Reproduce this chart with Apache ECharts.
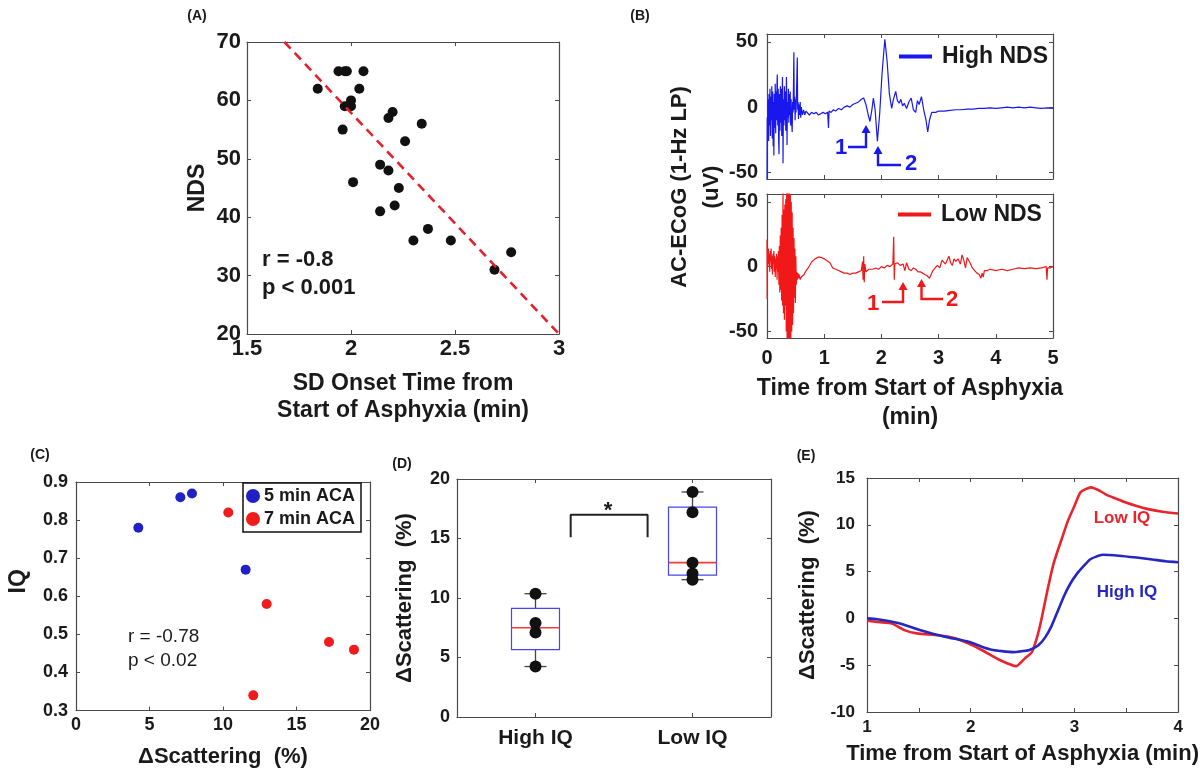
<!DOCTYPE html>
<html><head><meta charset="utf-8">
<script src="https://cdn.jsdelivr.net/npm/echarts@6/dist/echarts.min.js"></script>
<style>html,body{margin:0;padding:0;background:#fff}#c{width:1201px;height:771px}</style>
</head><body><div id="c"></div>
<script>
// ================= DATA =================
// (A) SD onset time vs NDS
const ndsOnset = [1.84,1.94,1.97,1.98,2.06,2.04,2.00,1.97,2.00,1.96,2.01,2.18,2.20,2.34,2.26,2.14,2.18,2.23,2.21,2.14,2.37,2.30,2.48,2.69,2.77];
const ndsScore = [62,65,65,65,65,62,60,59,59,55,46,57,58,56,53,49,48,45,42,41,38,36,36,31,34];
const ndsFitX = [1.68, 3.0];
const ndsFitY = [70, 20];
const ndsXTicks = [1.5, 3, 0.5];   // min, max, step
const ndsYTicks = [20, 70, 10];

// (B) AC-ECoG traces [time (min), uV]
const highNDS = [[0,-56],[0.004,-8],[0.012,-20],[0.02,6],[0.028,-26],[0.036,10],[0.044,-14],[0.052,14],[0.06,-22],[0.068,8],[0.076,-10],[0.084,16],[0.092,-24],[0.10,12],[0.108,-30],[0.116,4],[0.12,-37],[0.128,10],[0.136,-16],[0.144,18],[0.152,-20],[0.16,12],[0.168,-10],[0.176,20],[0.18,25],[0.188,-14],[0.196,14],[0.204,-26],[0.21,-36],[0.218,10],[0.226,-18],[0.234,16],[0.242,-12],[0.25,14],[0.258,-22],[0.266,8],[0.27,23],[0.278,-20],[0.28,-43],[0.288,6],[0.296,-14],[0.304,16],[0.312,-10],[0.32,12],[0.328,-18],[0.336,8],[0.34,23],[0.348,-12],[0.35,-29],[0.358,4],[0.366,-8],[0.374,14],[0.382,-12],[0.39,10],[0.398,-6],[0.406,12],[0.414,-14],[0.422,6],[0.43,-10],[0.44,-19],[0.448,4],[0.456,-4],[0.464,20],[0.47,42],[0.476,-2],[0.484,8],[0.492,-10],[0.50,6],[0.508,-4],[0.516,12],[0.53,38],[0.536,-2],[0.544,4],[0.55,-9],[0.56,2],[0.57,-6],[0.58,4],[0.59,-8],[0.60,0],[0.62,-6],[0.64,-2],[0.66,-6],[0.68,-3],[0.70,-4],[0.74,-6],[0.78,-4],[0.82,-5],[0.86,-4],[0.90,-6],[0.94,-5],[0.98,-4],[1.02,-5],[1.06,-4],[1.075,-16],[1.085,-3],[1.12,-4],[1.16,-2],[1.20,-3],[1.25,-1],[1.30,-2],[1.35,0],[1.40,1],[1.45,0],[1.50,2],[1.55,3],[1.60,4],[1.65,6],[1.69,7],[1.73,2],[1.77,-6],[1.80,-11],[1.83,-3],[1.86,7],[1.89,-2],[1.93,-26],[1.97,-5],[2.01,25],[2.06,52],[2.10,35],[2.14,10],[2.18,-1],[2.21,6],[2.25,12],[2.28,5],[2.31,3],[2.34,6],[2.37,1],[2.40,3],[2.44,-1],[2.48,4],[2.52,7],[2.56,-2],[2.60,-4],[2.63,5],[2.66,2],[2.70,8],[2.74,-2],[2.78,-10],[2.81,-19],[2.84,-10],[2.88,-4],[2.95,-4],[3.0,-3],[3.1,-3],[3.2,-2.5],[3.3,-2],[3.4,-2],[3.5,-1.5],[3.6,-1.5],[3.7,-1],[3.8,-1],[3.9,-0.5],[4.0,-1],[4.1,-0.5],[4.2,0],[4.3,-0.5],[4.4,0],[4.5,-0.5],[4.6,0],[4.7,-0.5],[4.8,-1],[4.9,-0.5],[5.0,-1]];
const lowNDS = [[0,21],[0.003,-25],[0.008,12],[0.016,0],[0.024,14],[0.032,2],[0.04,10],[0.048,-4],[0.056,12],[0.064,4],[0.072,14],[0.08,-2],[0.088,8],[0.096,-6],[0.104,10],[0.112,2],[0.12,12],[0.128,-4],[0.136,8],[0.144,-8],[0.152,6],[0.16,-2],[0.168,10],[0.176,-10],[0.184,8],[0.192,-4],[0.20,12],[0.208,-14],[0.216,16],[0.224,-20],[0.232,24],[0.24,-18],[0.248,30],[0.256,-26],[0.264,40],[0.272,-30],[0.28,58],[0.288,-36],[0.296,44],[0.304,-41],[0.312,48],[0.32,-30],[0.328,52],[0.336,-50],[0.344,60],[0.352,-60],[0.36,60],[0.368,-60],[0.376,60],[0.384,-60],[0.392,58],[0.40,-60],[0.408,56],[0.416,-58],[0.424,50],[0.432,-50],[0.44,42],[0.448,-45],[0.456,30],[0.464,-36],[0.472,22],[0.48,-24],[0.488,14],[0.496,-28],[0.504,8],[0.512,-14],[0.52,-4],[0.53,-10],[0.54,-5],[0.55,-9],[0.56,-6],[0.58,-10],[0.60,-8],[0.62,-9],[0.65,-6],[0.67,-4],[0.72,-1],[0.78,3.6],[0.84,6],[0.90,7.5],[0.95,7],[1.0,6],[1.05,4.5],[1.1,3],[1.15,-1],[1.2,-2],[1.25,-3],[1.3,-4],[1.35,-5],[1.4,-5],[1.45,-6],[1.5,-5],[1.55,-5],[1.6,-4],[1.65,-3],[1.67,4],[1.68,-10],[1.69,8],[1.70,-12],[1.71,2],[1.73,-4],[1.78,-2],[1.85,-2],[1.9,-1],[1.95,-2],[2.0,0],[2.05,-1],[2.1,1],[2.15,0],[2.2,2],[2.215,23],[2.225,-10],[2.235,2],[2.28,3],[2.33,1],[2.38,2],[2.41,-3],[2.44,3],[2.48,-2],[2.52,-3],[2.56,-1],[2.60,-2],[2.64,-4],[2.68,-4],[2.72,-5],[2.76,-6],[2.80,-7],[2.84,-9],[2.87,-6],[2.90,-3],[2.94,-1],[2.98,1],[3.02,-1],[3.06,5],[3.09,6],[3.12,2],[3.15,3],[3.18,8],[3.21,3],[3.24,1],[3.27,6],[3.30,4],[3.34,6],[3.38,2],[3.41,9],[3.44,5],[3.47,-1],[3.50,7],[3.53,8],[3.56,2],[3.59,-1],[3.63,-3],[3.67,-5],[3.71,-6],[3.74,-9],[3.76,-5],[3.78,-8],[3.80,-3],[3.85,-3],[3.90,-2],[4.0,-3],[4.1,-2],[4.2,-3],[4.3,-2],[4.4,-1],[4.5,-1.5],[4.6,-1],[4.7,-1.5],[4.8,-1],[4.88,0],[4.895,-10],[4.905,-1],[4.95,-1],[5.0,0]];
const ecogYTicks = [-50, 0, 50];

// (C) IQ vs ΔScattering
const aca5Scatter = [4.24, 7.1, 7.89, 11.54];
const aca5IQ      = [0.78, 0.86, 0.87, 0.67];
const aca7Scatter = [10.36, 12.97, 17.21, 18.91, 12.06];
const aca7IQ      = [0.82, 0.58, 0.48, 0.46, 0.34];

// (D) box plot
const iqGroups = ['High IQ', 'Low IQ'];
const highIQScatter = [4.24, 7.1, 7.89, 10.36];
const lowIQScatter  = [11.54, 12.06, 12.97, 17.21, 18.91];
const sigBracket = [[0.724,15.1],[0.724,17],[1.214,17],[1.214,15.1]];

// (E) ΔScattering time course [min, %]
const eLowIQ = [[1,-0.25],[1.12,-0.4],[1.24,-0.55],[1.36,-1.25],[1.48,-1.6],[1.69,-1.8],[1.84,-2.1],[1.98,-2.7],[2.11,-3.4],[2.29,-4.5],[2.44,-5.1],[2.52,-4.3],[2.59,-3.6],[2.64,-2.0],[2.68,-0.2],[2.74,3.0],[2.80,5.9],[2.89,8.9],[2.94,10.5],[3.0,12.0],[3.06,13.5],[3.16,14.0],[3.25,13.6],[3.31,13.2],[3.4,12.8],[3.49,12.4],[3.6,12.0],[3.7,11.7],[3.85,11.4],[4,11.2]];
const eHighIQ = [[1,0],[1.1,-0.1],[1.3,-0.5],[1.5,-1.2],[1.75,-1.95],[1.98,-2.5],[2.1,-3.0],[2.2,-3.35],[2.3,-3.5],[2.41,-3.6],[2.5,-3.5],[2.56,-3.4],[2.65,-2.9],[2.72,-2.0],[2.78,-0.8],[2.84,0.8],[2.9,2.4],[2.96,3.7],[3.02,4.7],[3.09,5.6],[3.15,6.3],[3.21,6.6],[3.27,6.8],[3.43,6.7],[3.6,6.5],[3.75,6.3],[3.88,6.1],[4,6.0]];

// ================= BUILD =================
const FONT = '"Liberation Sans", Arial, sans-serif';
const AX = '#4a4a4a';
const TXT = '#1a1a1a';
const grids = [], xAxes = [], yAxes = [];

function panel(rect, xa, ya) {
  const gi = grids.length;
  grids.push({left: rect[0], top: rect[1], width: rect[2], height: rect[3]});
  const mk = (cfg, pos, primary) => {
    const lab = cfg.label || {};
    const ax = {
      type: 'value', gridIndex: gi, position: pos, min: cfg.min, max: cfg.max,
      splitLine: {show: false},
      axisLine: {show: true, onZero: false, lineStyle: {color: AX, width: 1.2}},
      axisTick: {show: true, inside: true, length: 4, lineStyle: {color: AX, width: 1}},
      axisLabel: {show: primary && lab.show !== false, margin: lab.margin, fontSize: lab.size,
                  fontWeight: 'bold', color: TXT, fontFamily: FONT}
    };
    if (cfg.interval != null) ax.interval = cfg.interval;
    if (cfg.ticks) { ax.axisTick.customValues = cfg.ticks; ax.axisLabel.customValues = cfg.ticks; }
    if (lab.formatter) ax.axisLabel.formatter = lab.formatter;
    if (primary && cfg.name) {
      ax.name = cfg.name; ax.nameLocation = 'middle'; ax.nameGap = cfg.nameGap;
      ax.nameTextStyle = {fontSize: cfg.nameSize, fontWeight: 'bold', color: TXT, fontFamily: FONT,
                          lineHeight: cfg.nameLH || cfg.nameSize * 1.2, padding: cfg.namePad || 0};
    }
    return ax;
  };
  xAxes.push(mk(xa, 'bottom', true), mk(xa, 'top', false));
  yAxes.push(mk(ya, 'left', true), mk(ya, 'right', false));
  return gi * 2;
}

const pA = panel([247, 42, 312, 292],
  {min: ndsXTicks[0], max: ndsXTicks[1], interval: ndsXTicks[2], label: {size: 22, margin: 4},
   name: 'SD Onset Time from\nStart of Asphyxia (min)', nameGap: 36, nameSize: 23, nameLH: 27},
  {min: ndsYTicks[0], max: ndsYTicks[1], interval: ndsYTicks[2], label: {size: 22, margin: 6},
   name: 'NDS', nameGap: 36, nameSize: 23});
const pB1 = panel([767, 34, 286, 145],
  {min: 0, max: 5, interval: 1, label: {show: false}},
  {min: -55, max: 56, ticks: ecogYTicks, label: {size: 20, margin: 9}});
const pB2 = panel([767, 194, 286, 144],
  {min: 0, max: 5, interval: 1, label: {size: 20, margin: 10},
   name: 'Time from Start of Asphyxia\n(min)', nameGap: 36, nameSize: 23, nameLH: 29},
  {min: -55, max: 56, ticks: ecogYTicks, label: {size: 20, margin: 9}});
const pC = panel([76, 482, 294, 235],
  {min: 0, max: 20, interval: 5, label: {size: 18, margin: 5},
   name: 'ΔScattering  (%)', nameGap: 33, nameSize: 22},
  {min: 0.3, max: 0.9, interval: 0.1, label: {size: 18, margin: 8},
   name: 'IQ', nameGap: 44, nameSize: 23, namePad: [0, 0, 0, 30]});
const pD = panel([457, 479, 314, 238],
  {min: 0, max: 2, ticks: [0.5, 1.5], label: {size: 21, margin: 11, formatter: v => iqGroups[Math.round(v - 0.5)]}},
  {min: 0, max: 20, interval: 5, label: {size: 18, margin: 7},
   name: 'ΔScattering  (%)', nameGap: 39, nameSize: 22});
const pE = panel([867, 478, 333, 234],
  {min: 1, max: 4, interval: 0.5, label: {size: 17, margin: 7, formatter: v => Number.isInteger(v) ? String(v) : ''},
   name: 'Time from Start of Asphyxia (min)', nameGap: 29, nameSize: 22},
  {min: -10, max: 15, interval: 5, label: {size: 17, margin: 12},
   name: 'ΔScattering  (%)', nameGap: 46, nameSize: 22});

// box stats (MATLAB prctile convention)
function prctile(arr, p) {
  const s = arr.slice().sort((a, b) => a - b), n = s.length;
  const pos = p / 100 * n + 0.5;
  if (pos <= 1) return s[0];
  if (pos >= n) return s[n - 1];
  const i = Math.floor(pos);
  return s[i - 1] + (pos - i) * (s[i] - s[i - 1]);
}
const boxData = [highIQScatter, lowIQScatter].map((arr, k) =>
  [k + 0.5, Math.min(...arr), prctile(arr, 25), prctile(arr, 50), prctile(arr, 75), Math.max(...arr)]);

const series = [
  // A
  {type: 'scatter', xAxisIndex: pA, yAxisIndex: pA, data: ndsOnset.map((x, i) => [x, ndsScore[i]]),
   symbolSize: 10, itemStyle: {color: '#111', opacity: 1}, z: 2},
  {type: 'line', xAxisIndex: pA, yAxisIndex: pA, data: ndsFitX.map((x, i) => [x, ndsFitY[i]]),
   symbol: 'none', lineStyle: {color: '#e3222b', width: 2.6, type: [9, 6]}, z: 3},
  // B
  {type: 'line', name: 'High NDS', xAxisIndex: pB1, yAxisIndex: pB1, data: highNDS, symbol: 'none',
   lineStyle: {color: '#1818ee', width: 1.2}, itemStyle: {color: '#1818ee'}},
  {type: 'line', name: 'Low NDS', xAxisIndex: pB2, yAxisIndex: pB2, data: lowNDS, symbol: 'none',
   lineStyle: {color: '#f01818', width: 1.2}, itemStyle: {color: '#f01818'}},
  // C
  {type: 'scatter', name: '5 min ACA', xAxisIndex: pC, yAxisIndex: pC, data: aca5Scatter.map((x, i) => [x, aca5IQ[i]]),
   symbolSize: 10, itemStyle: {color: '#2020c4', opacity: 1}},
  {type: 'scatter', name: '7 min ACA', xAxisIndex: pC, yAxisIndex: pC, data: aca7Scatter.map((x, i) => [x, aca7IQ[i]]),
   symbolSize: 10, itemStyle: {color: '#f01c1c', opacity: 1}},
  // D
  {type: 'custom', xAxisIndex: pD, yAxisIndex: pD, data: boxData, encode: {x: 0, y: [1, 2, 3, 4, 5]},
   renderItem: function (params, api) {
     const x = api.value(0);
     const pMin = api.coord([x, api.value(1)]), pQ1 = api.coord([x, api.value(2)]),
           pMed = api.coord([x, api.value(3)]), pQ3 = api.coord([x, api.value(4)]),
           pMax = api.coord([x, api.value(5)]);
     const cx = pMin[0], bw = 24, cw = 11;
     const wk = {stroke: '#444', lineWidth: 1.3};
     return {type: 'group', children: [
       {type: 'line', shape: {x1: cx, y1: pMin[1], x2: cx, y2: pQ1[1]}, style: wk},
       {type: 'line', shape: {x1: cx, y1: pQ3[1], x2: cx, y2: pMax[1]}, style: wk},
       {type: 'line', shape: {x1: cx - cw, y1: pMin[1], x2: cx + cw, y2: pMin[1]}, style: wk},
       {type: 'line', shape: {x1: cx - cw, y1: pMax[1], x2: cx + cw, y2: pMax[1]}, style: wk},
       {type: 'rect', shape: {x: cx - bw, y: pQ3[1], width: 2 * bw, height: pQ1[1] - pQ3[1]},
        style: {fill: null, stroke: '#4646f0', lineWidth: 1.2}},
       {type: 'line', shape: {x1: cx - bw, y1: pMed[1], x2: cx + bw, y2: pMed[1]},
        style: {stroke: '#f03c3c', lineWidth: 1.6}}
     ]};
   }, z: 2},
  {type: 'scatter', xAxisIndex: pD, yAxisIndex: pD, symbolSize: 12, itemStyle: {color: '#111', opacity: 1}, z: 4,
   data: highIQScatter.map(v => [0.5, v]).concat(lowIQScatter.map(v => [1.5, v]))},
  {type: 'line', xAxisIndex: pD, yAxisIndex: pD, data: sigBracket, symbol: 'none',
   lineStyle: {color: '#222', width: 2}},
  // E
  {type: 'line', name: 'Low IQ', xAxisIndex: pE, yAxisIndex: pE, data: eLowIQ, symbol: 'none', smooth: 0.2,
   lineStyle: {color: '#e8242c', width: 2.6}},
  {type: 'line', name: 'High IQ', xAxisIndex: pE, yAxisIndex: pE, data: eHighIQ, symbol: 'none', smooth: 0.2,
   lineStyle: {color: '#2626c0', width: 2.6}}
];

const txt = (x, y, text, font, fill, align, extra) => Object.assign({type: 'text', x: x, y: y, z: 100,
  style: {text: text, font: font, fill: fill || TXT, textAlign: align || 'center', textVerticalAlign: 'middle'}}, extra || {});
const poly = (pts, color) => ({type: 'polyline', z: 100, shape: {points: pts}, style: {stroke: color, lineWidth: 2.4, fill: null}});
const head = (x, y, color) => ({type: 'polygon', z: 100, shape: {points: [[x - 4.5, y + 7], [x + 4.5, y + 7], [x, y - 1]]}, style: {fill: color}});
const BLUE = '#1818ee', RED = '#f01818';

const graphic = [
  txt(197, 16, '(A)', 'bold 14px ' + FONT),
  txt(640, 16, '(B)', 'bold 14px ' + FONT),
  txt(40, 455, '(C)', 'bold 14px ' + FONT),
  txt(402, 464, '(D)', 'bold 14px ' + FONT),
  txt(806, 456, '(E)', 'bold 14px ' + FONT),
  txt(262, 260, 'r = -0.8', 'bold 22px ' + FONT, TXT, 'left'),
  txt(262, 288, 'p < 0.001', 'bold 22px ' + FONT, TXT, 'left'),
  txt(128, 637, 'r = -0.78', '19px ' + FONT, TXT, 'left'),
  txt(128, 661, 'p < 0.02', '19px ' + FONT, TXT, 'left'),
  txt(680, 187, 'AC-ECoG (1-Hz LP)', 'bold 22px ' + FONT, TXT, 'center', {rotation: Math.PI / 2}),
  txt(712, 187, '(uV)', 'bold 22px ' + FONT, TXT, 'center', {rotation: Math.PI / 2}),
  // B top annotations
  txt(841, 148, '1', 'bold 22px ' + FONT, BLUE),
  poly([[848, 147], [866, 147], [866, 130]], BLUE), head(866, 126, BLUE),
  poly([[878, 151], [878, 165], [901, 165]], BLUE), head(878, 147, BLUE),
  txt(911, 164, '2', 'bold 22px ' + FONT, BLUE),
  // B bottom annotations
  txt(873, 304, '1', 'bold 22px ' + FONT, RED),
  poly([[882, 302], [903, 302], [903, 287]], RED), head(903, 283, RED),
  poly([[921.5, 284], [921.5, 299], [943, 299]], RED), head(921.5, 280, RED),
  txt(952, 300, '2', 'bold 22px ' + FONT, RED),
  // D star
  txt(608, 511, '*', 'bold 22px ' + FONT),
  // E labels
  txt(1122, 518, 'Low IQ', 'bold 17px ' + FONT, '#e8242c'),
  txt(1127, 592, 'High IQ', 'bold 17px ' + FONT, '#2626c0')
];

const legTxt = (size) => ({fontSize: size, fontWeight: 'bold', color: TXT, fontFamily: FONT, padding: [0, 0, 0, 5]});
const option = {
  backgroundColor: '#fff',
  animation: false,
  grid: grids, xAxis: xAxes, yAxis: yAxes,
  legend: [
    {data: ['High NDS'], left: 894, top: 40, icon: 'rect', itemWidth: 33, itemHeight: 4, selectedMode: false, textStyle: legTxt(23)},
    {data: ['Low NDS'], left: 893, top: 198, icon: 'rect', itemWidth: 33, itemHeight: 4, selectedMode: false, textStyle: legTxt(23)},
    {data: ['5 min ACA', '7 min ACA'], left: 243, top: 483, orient: 'vertical', icon: 'circle', itemWidth: 14, itemHeight: 14,
     itemGap: 5, padding: [4, 6, 4, 3], borderColor: '#111', borderWidth: 1.5, backgroundColor: '#fff', selectedMode: false,
     textStyle: {fontSize: 18, fontWeight: 'bold', color: TXT, fontFamily: FONT, padding: [0, 0, 0, -1]}}
  ],
  series: series,
  graphic: graphic
};
const chart = echarts.init(document.getElementById('c'), null, {renderer: 'canvas'});
chart.setOption(option);
</script></body></html>
